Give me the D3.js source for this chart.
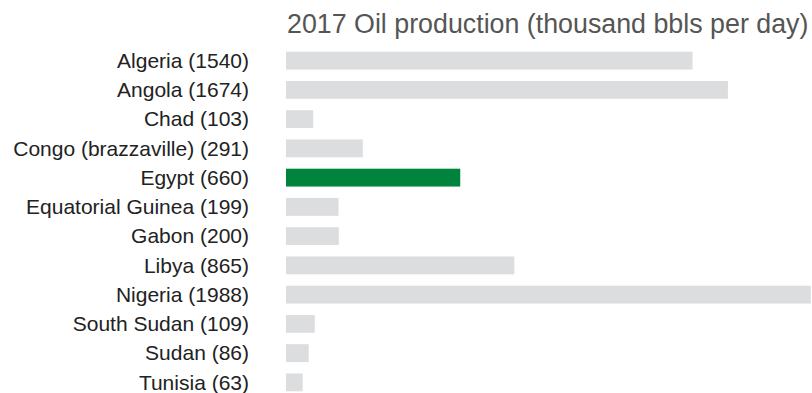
<!DOCTYPE html>
<html>
<head>
<meta charset="utf-8">
<script src="https://cdn.jsdelivr.net/npm/d3@7"></script>
<style>
  body { margin: 0; background: #fff; }
  svg { display: block; }
  text { font-family: 'Liberation Sans', Arimo, Arial, Helvetica, sans-serif; }
</style>
</head>
<body>
<svg width="812" height="393"></svg>
<script>
// chart data
const countries = ["Algeria", "Angola", "Chad", "Congo (brazzaville)", "Egypt",
    "Equatorial Guinea", "Gabon", "Libya", "Nigeria", "South Sudan", "Sudan", "Tunisia"];
const production = [1540, 1674, 103, 291, 660, 199, 200, 865, 1988, 109, 86, 63];
const highlight = "Egypt";
const title = "2017 Oil production (thousand bbls per day)";

const svg = d3.select("svg");
const left = 286;

const x = d3.scaleLinear()
    .domain([0, 2000])
    .range([left, left + 528]);

const y = d3.scaleBand()
    .domain(countries)
    .range([46, 397])
    .paddingInner(0.39)
    .paddingOuter(0.195);

const rows = countries.map((c, i) => ({ name: c, value: production[i] }));

svg.append("text")
    .attr("x", 287)
    .attr("y", 33)
    .attr("font-size", 26.8)
    .attr("fill", "#555")
    .text(title);

svg.append("g")
    .selectAll("rect")
    .data(rows)
    .join("rect")
    .attr("x", x(0))
    .attr("y", d => y(d.name))
    .attr("width", d => x(d.value) - x(0))
    .attr("height", y.bandwidth())
    .attr("fill", d => d.name === highlight ? "#00843d" : "#dcdddf");

svg.append("g")
    .selectAll("text")
    .data(rows)
    .join("text")
    .attr("x", 249)
    .attr("y", d => y(d.name) + y.bandwidth() / 2)
    .attr("dy", "0.35em")
    .attr("text-anchor", "end")
    .attr("font-size", 21)
    .attr("fill", "#222")
    .text(d => `${d.name} (${d.value})`);
</script>
</body>
</html>
